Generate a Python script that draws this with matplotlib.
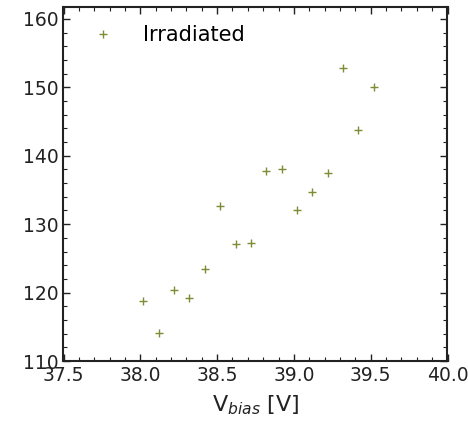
import numpy as np
import matplotlib.pyplot as plt
from matplotlib.ticker import MultipleLocator

# bias voltage [V] and measured value for the irradiated sample
v_bias = [38.02, 38.12, 38.22, 38.32, 38.42, 38.52, 38.62, 38.72,
          38.82, 38.92, 39.02, 39.12, 39.22, 39.32, 39.42, 39.52]
values = [118.7, 114.1, 120.4, 119.2, 123.4, 132.6, 127.1, 127.2,
          137.7, 138.1, 132.0, 134.7, 137.5, 152.8, 143.8, 150.1]

plt.rcParams['font.family'] = 'DejaVu Sans'

fig = plt.figure(figsize=(4.68, 4.26), dpi=100)
ax = fig.add_axes([63.5/468, 1 - 361/426, (447.5 - 63.5)/468, (361 - 6.5)/426])

ax.plot(v_bias, values, '+', color='#7d8c35', markersize=6, mew=1.0,
        label='Irradiated')

ax.set_xlim(37.5, 40.0)
ax.set_ylim(110, 161.8)
ax.xaxis.set_major_locator(MultipleLocator(0.5))
ax.xaxis.set_minor_locator(MultipleLocator(0.1))
ax.yaxis.set_major_locator(MultipleLocator(10))
ax.yaxis.set_minor_locator(MultipleLocator(2))
ax.tick_params(which='both', direction='in', top=True, right=True,
               labelsize=13.5, colors='#222222')
ax.tick_params(which='major', length=5, width=1)
ax.tick_params(which='minor', length=3, width=0.8)
for s in ax.spines.values():
    s.set_linewidth(1.5)
    s.set_color('#222222')

ax.set_xlabel(r'V$_{bias}$ [V]', fontsize=16, color='#222222', labelpad=6)
ax.legend(loc='upper left', frameon=False, fontsize=15, numpoints=1,
          handletextpad=0.9, borderaxespad=0.5)

fig.savefig('out.png', dpi=100)
